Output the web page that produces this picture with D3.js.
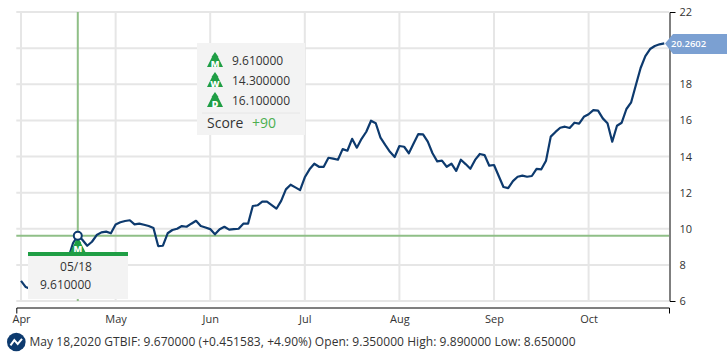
<!DOCTYPE html>
<html lang='en'>
	<head>
		<title>GTBIF chart</title>
		<script type='text/javascript' src='https://cdn.jsdelivr.net/npm/d3@7'></script>
		<style>
			html, body { margin: 0; padding: 0; background: #fff; }
			svg { display: block; }
			text { font-family: 'Open Sans', sans-serif; }
		</style>
	</head>
	<body>
		<script type='text/javascript'>
		// closing prices, one per trading day
		// (entries 3-10 sit behind the date box in the reference, so they are guesses)
		var prices = [7.11,6.77,6.66,6.88,7.16,7.38,7.60,7.44,7.71,7.94,8.38,9.21,9.61,9.38,9.06,9.28,9.65,9.80,9.84,9.75,
			10.24,10.36,10.43,10.47,10.24,10.28,10.22,10.15,10.04,9.04,9.06,9.75,9.93,10.00,10.15,10.11,10.28,10.44,10.15,10.07,
			9.98,9.69,9.97,10.11,9.95,9.98,10.00,10.28,10.28,11.26,11.30,11.50,11.50,11.31,11.11,11.54,12.18,12.44,12.29,12.14,
			12.85,13.29,13.60,13.43,13.43,13.93,13.88,13.82,14.41,14.32,14.98,14.49,14.98,15.37,15.98,15.84,15.04,14.64,14.26,13.97,
			14.58,14.54,14.18,14.72,15.24,15.23,14.82,14.18,13.73,13.77,13.43,13.60,13.20,13.82,13.58,13.32,13.81,14.14,14.08,13.49,
			13.53,12.92,12.31,12.25,12.64,12.88,12.94,12.88,12.92,13.32,13.29,13.77,15.10,15.36,15.59,15.65,15.58,15.87,15.82,16.20,
			16.34,16.57,16.54,16.11,15.84,14.82,15.70,15.87,16.63,17.00,17.96,18.90,19.56,19.95,20.12,20.21,20.26];
		var month_labels = ['Apr','May','Jun','Jul','Aug','Sep','Oct'];
		var month_index = [0,20,40,60,80,100,120];
		var price_ticks = [6,8,10,12,14,16,18,20,22];
		var hidden_tick = 20; // sits under the last price tag, no label in the reference

		var selected_index = 12;
		var selected_price = 9.61;
		var last_price_label = '20.2602';
		var date_label = '05/18';
		var price_label = '9.610000';
		var signal_letters = ['M','W','D'];
		var signal_values = ['9.610000','14.300000','16.100000'];
		var score_label = 'Score';
		var score_value = '+90';
		var footer_text = 'May 18,2020 GTBIF: 9.670000 (+0.451583, +4.90%) Open: 9.350000 High: 9.890000 Low: 8.650000';

		var width = 727, height = 360;
		var navy = '#0d3a6e', grid = '#e6e6e6', green = '#8fbf87', signal = '#1f9e45', box = '#f3f3f3', ink = '#333333';
		var svg_elem = d3.select('body').append('svg').attr('width', width).attr('height', height)

		var x = d3.scaleLinear().domain([-1,137]).range([16.3,669])
		var y = d3.scaleLinear().domain([6,22]).range([301,12])

		// grid
		svg_elem.append('g').selectAll('line').data(price_ticks).enter().append('line')
			.attr('x1', x.range()[0]).attr('x2', x.range()[1])
			.attr('y1', d => y(d)).attr('y2', d => y(d))
			.attr('stroke', grid).attr('stroke-width', 2)
		svg_elem.append('g').selectAll('line').data(month_index).enter().append('line')
			.attr('x1', d => x(d)).attr('x2', d => x(d))
			.attr('y1', y(22)).attr('y2', y(6))
			.attr('stroke', grid).attr('stroke-width', 2)

		// axes
		var x_axis = d3.axisBottom(x).tickValues(month_index).tickFormat((d,i) => month_labels[i])
			.tickSizeInner(0).tickSizeOuter(6).tickPadding(7.5)
		var y_axis = d3.axisRight(y).tickValues(price_ticks).tickFormat(d => d === hidden_tick ? '' : d)
			.tickSizeInner(0).tickSizeOuter(6).tickPadding(10)
		var gx = svg_elem.append('g').attr('transform', 'translate(0,307.5)').call(x_axis)
		var gy = svg_elem.append('g').attr('transform', 'translate(669.5,0)').call(y_axis)
		gx.selectAll('text').attr('font-size', 11).attr('fill', ink).style('font-family', "'Open Sans', sans-serif")
		gy.selectAll('text').attr('font-size', 11).attr('fill', ink).style('font-family', "'Open Sans', sans-serif")
		gx.select('.domain').attr('stroke', '#000')
		gy.select('.domain').attr('stroke', '#000')

		// crosshair
		svg_elem.append('line').attr('x1', x(selected_index)).attr('x2', x(selected_index))
			.attr('y1', y(22)).attr('y2', y(6)).attr('stroke', green).attr('stroke-width', 2)
		svg_elem.append('line').attr('x1', x.range()[0]).attr('x2', x.range()[1])
			.attr('y1', y(selected_price)).attr('y2', y(selected_price)).attr('stroke', green).attr('stroke-width', 2)

		// price line
		var line = d3.line().x((d,i) => x(i)).y(d => y(d))
		svg_elem.append('path').datum(prices).attr('d', line)
			.attr('fill', 'none').attr('stroke', navy).attr('stroke-width', 2.2).attr('stroke-linejoin', 'round')

		// draws the green triangle signal with its letter
		function signal_mark(parent, cx, top, letter) {
			parent.append('path')
				.attr('d', 'M' + cx + ',' + top + 'l3.5,5h-0.5l5,10h-16l5,-10h-0.5z')
				.attr('fill', signal)
			parent.append('text').attr('x', cx).attr('y', top + 14.5)
				.attr('text-anchor', 'middle').attr('font-size', 9).attr('font-weight', 800)
				.attr('fill', '#fff').text(letter)
		}

		// marker and date box
		signal_mark(svg_elem, x(selected_index), y(selected_price) + 2, signal_letters[0])
		svg_elem.append('circle').attr('cx', x(selected_index)).attr('cy', y(selected_price)).attr('r', 4)
			.attr('fill', '#fff').attr('stroke', navy).attr('stroke-width', 2)

		var date_box = svg_elem.append('g')
		date_box.append('rect').attr('x', 28).attr('y', 252).attr('width', 100).attr('height', 47).attr('fill', box)
		date_box.append('rect').attr('x', 28).attr('y', 252).attr('width', 100).attr('height', 4).attr('fill', signal)
		date_box.append('text').attr('x', 76).attr('y', 270.5).attr('text-anchor', 'middle')
			.attr('font-size', 12).attr('fill', ink).text(date_label)
		date_box.append('text').attr('x', 40).attr('y', 289)
			.attr('font-size', 12).attr('fill', ink).text(price_label)

		// signal box
		var sig_box = svg_elem.append('g')
		sig_box.append('rect').attr('x', 197).attr('y', 43).attr('width', 108).attr('height', 92).attr('fill', box)
		signal_letters.forEach(function(l, i) {
			signal_mark(sig_box, 215, 52 + i * 20, l)
			sig_box.append('text').attr('x', 232).attr('y', 65 + i * 20)
				.attr('font-size', 12).attr('fill', ink).text(signal_values[i])
		})
		sig_box.append('line').attr('x1', 202).attr('x2', 300).attr('y1', 113).attr('y2', 113)
			.attr('stroke', '#e6e6e6').attr('stroke-width', 1)
		sig_box.append('text').attr('x', 207).attr('y', 128).attr('font-size', 14).attr('fill', ink).text(score_label)
		sig_box.append('text').attr('x', 252).attr('y', 128).attr('font-size', 14).attr('fill', '#4caf50').text(score_value)

		// last price tag
		var tag_y = y(prices[prices.length - 1])
		svg_elem.append('path')
			.attr('d', 'M665,' + tag_y + 'l8,-9.5h54v20h-54z')
			.attr('fill', '#7ba0d2')
		svg_elem.append('text').attr('x', 671).attr('y', tag_y + 3.5).attr('font-size', 9.5).attr('font-weight', 600)
			.attr('fill', '#fff').text(last_price_label)

		// footer icon and status text
		svg_elem.append('circle').attr('cx', 16.3).attr('cy', 342).attr('r', 9.3).attr('fill', navy)
		svg_elem.append('path').attr('d', 'M10.5,345.3L14.3,340.2L17.7,344L22,338.9')
			.attr('fill', 'none').attr('stroke', '#fff').attr('stroke-width', 2)
		svg_elem.append('text').attr('x', 29.5).attr('y', 346).attr('font-size', 12).attr('fill', ink)
			.attr('textLength', 546).attr('lengthAdjust', 'spacing').text(footer_text)
		</script>
	</body>
</html>
